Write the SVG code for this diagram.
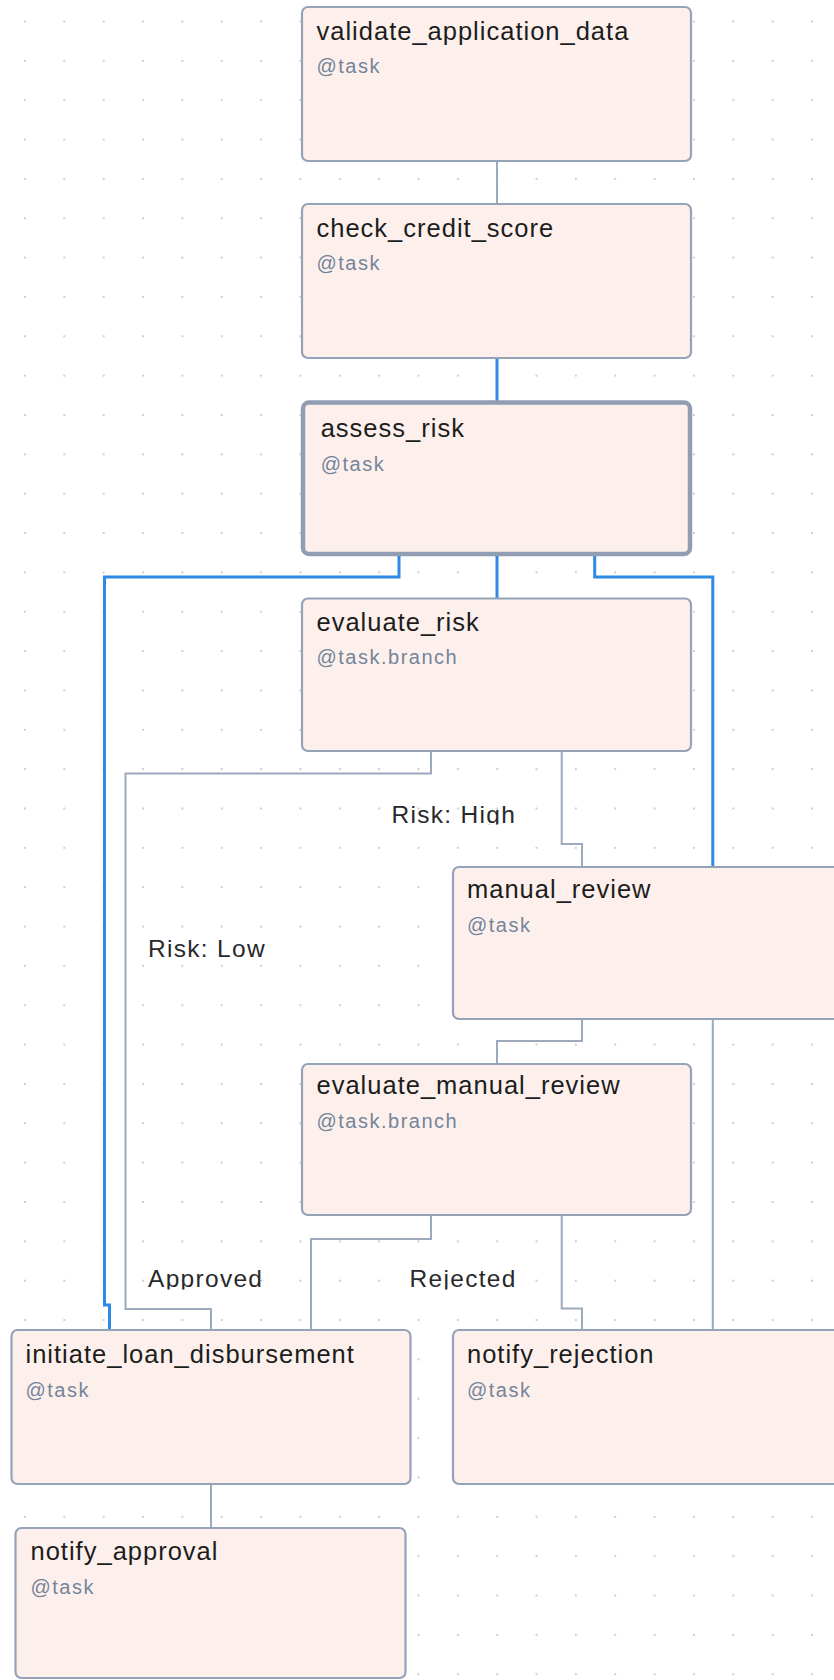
<svg xmlns="http://www.w3.org/2000/svg" width="834" height="1680" viewBox="0 0 834 1680">
  <defs>
    <pattern id="grid" patternUnits="userSpaceOnUse" x="5.3" y="1.8" width="39.35" height="39.35">
      <circle cx="19.67" cy="19.67" r="1.1" fill="#c2c5ca"/>
    </pattern>
    <clipPath id="clipHigh"><rect x="380" y="795" width="160" height="29.5"/></clipPath>
    <clipPath id="clipAppr"><rect x="140" y="1260" width="140" height="29.5"/></clipPath>
    <clipPath id="clipRej"><rect x="400" y="1260" width="130" height="29.5"/></clipPath>
  </defs>
  <style>
    .node rect { fill: #fdf0ec; stroke: #94a3b8; stroke-width: 2.2; }
    .node.active rect { stroke: #909db2; stroke-width: 4.5; }
    .title { font-family: "Liberation Sans", Arial, sans-serif; font-size: 25.5px; letter-spacing: 1px; fill: #1c1d20; }
    .sub { font-family: "Liberation Sans", Arial, sans-serif; font-size: 20px; letter-spacing: 1.5px; fill: #74849a; }
    .edge { fill: none; stroke: #9caabb; stroke-width: 2; }
    .edge.hl { stroke: #2f8ae5; stroke-width: 3; }
    .lbl { font-family: "Liberation Sans", Arial, sans-serif; font-size: 24.5px; letter-spacing: 1.3px; fill: #28292b; }
  </style>
  <rect width="834" height="1680" fill="#ffffff"/>
  <rect width="834" height="1680" fill="url(#grid)"/>

  <g id="connectors">
    <path class="edge" d="M497,161 V204"/>
    <path class="edge hl" d="M497,358 V402"/>
    <path class="edge hl" d="M497,554 V598"/>
    <path class="edge hl" d="M399,554 V577 H104.5 V1305 H109.5 V1330"/>
    <path class="edge hl" d="M594.7,554 V577 H712.8 V867"/>
    <path class="edge" d="M431,751 V773.5 H125.5 V1309 H211 V1330"/>
    <path class="edge" d="M561.7,751 V844 H582 V867"/>
    <path class="edge" d="M582,1019 V1041 H497 V1064"/>
    <path class="edge" d="M712.8,1019 V1330"/>
    <path class="edge" d="M431,1215 V1239 H311 V1330"/>
    <path class="edge" d="M561.7,1215 V1308.5 H582 V1330"/>
    <path class="edge" d="M211,1484 V1528"/>
    <g id="edge-labels">
      <text class="lbl" x="391.5" y="822.5" clip-path="url(#clipHigh)">Risk: High</text>
      <text class="lbl" x="148" y="957">Risk: Low</text>
      <text class="lbl" x="148" y="1287.3" clip-path="url(#clipAppr)">Approved</text>
      <text class="lbl" x="409.6" y="1287.3" clip-path="url(#clipRej)">Rejected</text>
    </g>
  </g>

  <g id="validate_application_data" class="node">
    <rect x="302" y="7" width="389" height="154" rx="6"/>
    <text class="title" x="316.5" y="39.5">validate_application_data</text>
    <text class="sub" x="316.5" y="73">@task</text>
  </g>
  <g id="check_credit_score" class="node">
    <rect x="302" y="204" width="389" height="154" rx="6"/>
    <text class="title" x="316.5" y="236.7">check_credit_score</text>
    <text class="sub" x="316.5" y="270">@task</text>
  </g>
  <g id="assess_risk" class="node active">
    <rect x="303" y="402.5" width="387" height="151.5" rx="6"/>
    <text class="title" x="320.7" y="437">assess_risk</text>
    <text class="sub" x="320.7" y="471">@task</text>
  </g>
  <g id="evaluate_risk" class="node">
    <rect x="302" y="598.5" width="389" height="152.5" rx="6"/>
    <text class="title" x="316.5" y="630.5">evaluate_risk</text>
    <text class="sub" x="316.5" y="664">@task.branch</text>
  </g>
  <g id="manual_review" class="node">
    <rect x="453" y="867" width="400" height="152" rx="6"/>
    <text class="title" x="467" y="898">manual_review</text>
    <text class="sub" x="467" y="932">@task</text>
  </g>
  <g id="evaluate_manual_review" class="node">
    <rect x="302" y="1064" width="389" height="151" rx="6"/>
    <text class="title" x="316.5" y="1094">evaluate_manual_review</text>
    <text class="sub" x="316.5" y="1128.3">@task.branch</text>
  </g>
  <g id="initiate_loan_disbursement" class="node">
    <rect x="11.5" y="1330" width="399" height="154" rx="6"/>
    <text class="title" x="25.5" y="1362.7">initiate_loan_disbursement</text>
    <text class="sub" x="25.5" y="1396.7">@task</text>
  </g>
  <g id="notify_rejection" class="node">
    <rect x="453" y="1330" width="400" height="154" rx="6"/>
    <text class="title" x="467" y="1362.7">notify_rejection</text>
    <text class="sub" x="467" y="1396.7">@task</text>
  </g>
  <g id="notify_approval" class="node">
    <rect x="15.5" y="1528" width="390" height="150" rx="6"/>
    <text class="title" x="30.5" y="1560.3">notify_approval</text>
    <text class="sub" x="30.5" y="1593.5">@task</text>
  </g>
</svg>
